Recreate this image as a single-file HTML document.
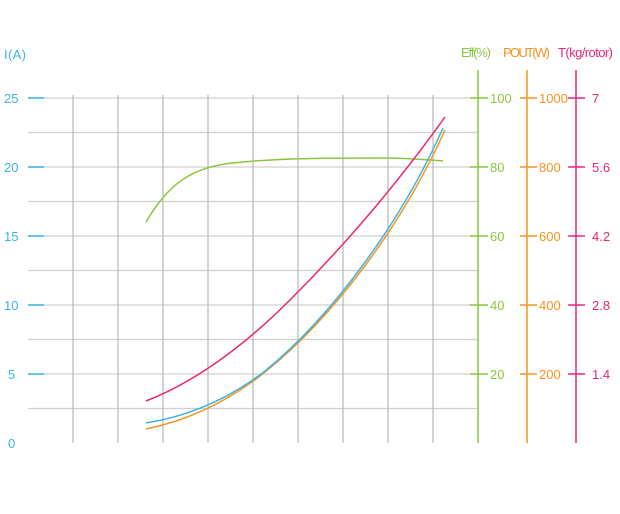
<!DOCTYPE html>
<html><head><style>body{margin:0;background:#fff}svg{display:block}text{font-family:"Liberation Sans",sans-serif;font-size:13px}</style></head><body>
<svg width="620" height="514" viewBox="0 0 620 514">
<g stroke="#d0d0d0" stroke-width="1.2">
<line x1="28" y1="98" x2="478" y2="98"/><line x1="28" y1="132.5" x2="478" y2="132.5"/><line x1="28" y1="167" x2="478" y2="167"/><line x1="28" y1="201.5" x2="478" y2="201.5"/><line x1="28" y1="236" x2="478" y2="236"/><line x1="28" y1="270.5" x2="478" y2="270.5"/><line x1="28" y1="305" x2="478" y2="305"/><line x1="28" y1="339.5" x2="478" y2="339.5"/><line x1="28" y1="374" x2="478" y2="374"/><line x1="28" y1="408.5" x2="478" y2="408.5"/>
</g>
<g stroke="#b8b8b8" stroke-width="1.2">
<line x1="73" y1="95" x2="73" y2="443"/><line x1="118" y1="95" x2="118" y2="443"/><line x1="163" y1="95" x2="163" y2="443"/><line x1="208" y1="95" x2="208" y2="443"/><line x1="253" y1="95" x2="253" y2="443"/><line x1="298" y1="95" x2="298" y2="443"/><line x1="343" y1="95" x2="343" y2="443"/><line x1="388" y1="95" x2="388" y2="443"/><line x1="433" y1="95" x2="433" y2="443"/>
</g>
<g stroke="#3ab4e6" stroke-width="1.5"><line x1="28" y1="98" x2="44" y2="98"/><line x1="28" y1="167" x2="44" y2="167"/><line x1="28" y1="236" x2="44" y2="236"/><line x1="28" y1="305" x2="44" y2="305"/><line x1="28" y1="374" x2="44" y2="374"/></g>
<g fill="#3ab4e6"><text x="4" y="59" textLength="22">I(A)</text><text x="4" y="103">25</text><text x="4" y="172">20</text><text x="4" y="241">15</text><text x="4" y="310">10</text><text x="8" y="379">5</text><text x="8" y="448">0</text></g>
<g stroke="#8cc63f" stroke-width="1.5" fill="none"><line x1="478" y1="70" x2="478" y2="443"/>
<line x1="470" y1="98" x2="488" y2="98"/><line x1="470" y1="167" x2="488" y2="167"/><line x1="470" y1="236" x2="488" y2="236"/><line x1="470" y1="305" x2="488" y2="305"/><line x1="470" y1="374" x2="488" y2="374"/>
<path d="M146,222 C165,190 185,170 225,164 C270,158 330,158 380,158 C410,158 430,160 443,161"/></g>
<g fill="#8cc63f"><text x="461" y="57" font-size="11" textLength="30">Eff(%)</text><text x="490" y="103">100</text><text x="490" y="172">80</text><text x="490" y="241">60</text><text x="490" y="310">40</text><text x="490" y="379">20</text></g>
<g stroke="#f7931e" stroke-width="1.5" fill="none"><line x1="527" y1="70" x2="527" y2="443"/>
<line x1="520" y1="98" x2="537" y2="98"/><line x1="520" y1="167" x2="537" y2="167"/><line x1="520" y1="236" x2="537" y2="236"/><line x1="520" y1="305" x2="537" y2="305"/><line x1="520" y1="374" x2="537" y2="374"/>
<path d="M146,429 C190,420 230,400 265,372 C330,320 400,230 445,130"/></g>
<g fill="#f7931e"><text x="503" y="57" font-size="11" textLength="47">POUT(W)</text><text x="539" y="103">1000</text><text x="539" y="172">800</text><text x="539" y="241">600</text><text x="539" y="310">400</text><text x="539" y="379">200</text></g>
<path d="M146,423 C190,416 230,398 265,371 C330,318 400,225 443,128" stroke="#3ab4e6" stroke-width="1.5" fill="none"/>
<g stroke="#e8267a" stroke-width="1.5" fill="none"><line x1="576" y1="70" x2="576" y2="443"/>
<line x1="568" y1="98" x2="585" y2="98"/><line x1="568" y1="167" x2="585" y2="167"/><line x1="568" y1="236" x2="585" y2="236"/><line x1="568" y1="305" x2="585" y2="305"/><line x1="568" y1="374" x2="585" y2="374"/>
<path d="M146,401 C200,380 250,340 290,300 C350,240 400,180 445,117"/></g>
<g fill="#e8267a"><text x="558" y="57" font-size="11" textLength="55">T(kg/rotor)</text><text x="592" y="103">7</text><text x="592" y="172">5.6</text><text x="592" y="241">4.2</text><text x="592" y="310">2.8</text><text x="592" y="379">1.4</text></g>
</svg></body></html>
